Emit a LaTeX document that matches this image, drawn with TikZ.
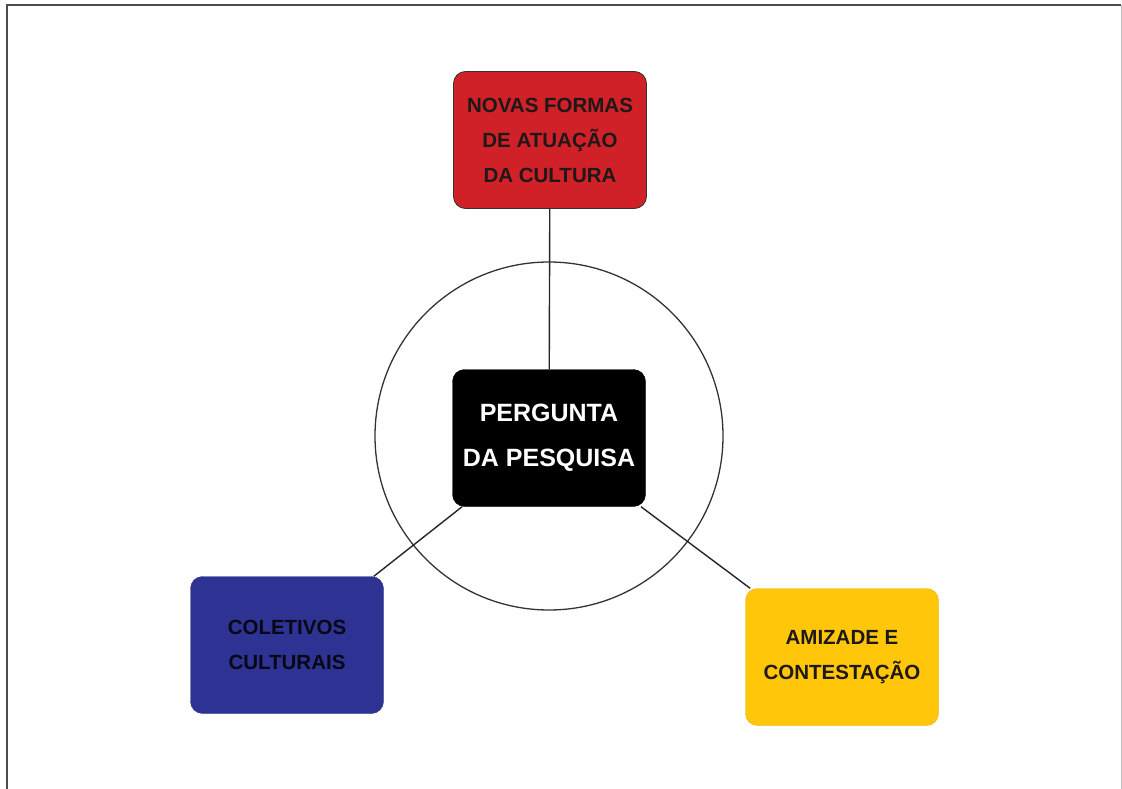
\documentclass[tikz,border=0pt]{standalone}
\usepackage{fontspec}
\setmainfont{Liberation Sans}
\usepackage{tikz}
\usetikzlibrary{positioning}

\definecolor{boxred}{RGB}{208,32,40}
\definecolor{boxblue}{RGB}{46,50,146}
\definecolor{boxyellow}{RGB}{255,198,10}
\definecolor{txtdark}{RGB}{30,24,24}

\begin{document}
\begin{tikzpicture}[
  x=1pt, y=-1pt,
  themebox/.style={rectangle, rounded corners=12pt, minimum width=193pt, minimum height=137pt,
    inner sep=0pt, align=center, text=txtdark, font=\bfseries\fontsize{20.5}{35}\selectfont},
  linkline/.style={draw=black!85, line width=1.4pt}
]
  \useasboundingbox (0,0) rectangle (1122,789);
  % frame
  \draw[black!70, line width=1.3pt] (7,789) -- (7,5) -- (1121,5);
  \draw[black!25, line width=1pt] (1121,5) -- (1121,789);

  \node[draw=black!80, line width=1.3pt, circle, minimum size=348pt, inner sep=0pt] (ring) at (549,436) {};

  \node[themebox, fill=black, draw=black, text=white, font=\bfseries\fontsize{25}{45}\selectfont] (pergunta) at (549,438) {PERGUNTA\\DA PESQUISA};
  \node[themebox, fill=boxred, draw=black!80, line width=0.8pt] (novas) at (550,140) {NOVAS FORMAS\\DE ATUAÇÃO\\DA CULTURA};
  \node[themebox, fill=boxblue, draw=boxblue, text=black!85!boxblue] (coletivos) at (287,645) {COLETIVOS\\CULTURAIS};
  \node[themebox, fill=boxyellow, draw=boxyellow!90!black] (amizade) at (842,657) {AMIZADE E\\CONTESTAÇÃO};

  \draw[linkline] (novas) -- (pergunta);
  \draw[linkline] (pergunta) -- (coletivos);
  \draw[linkline] (pergunta) -- (amizade);
\end{tikzpicture}
\end{document}
